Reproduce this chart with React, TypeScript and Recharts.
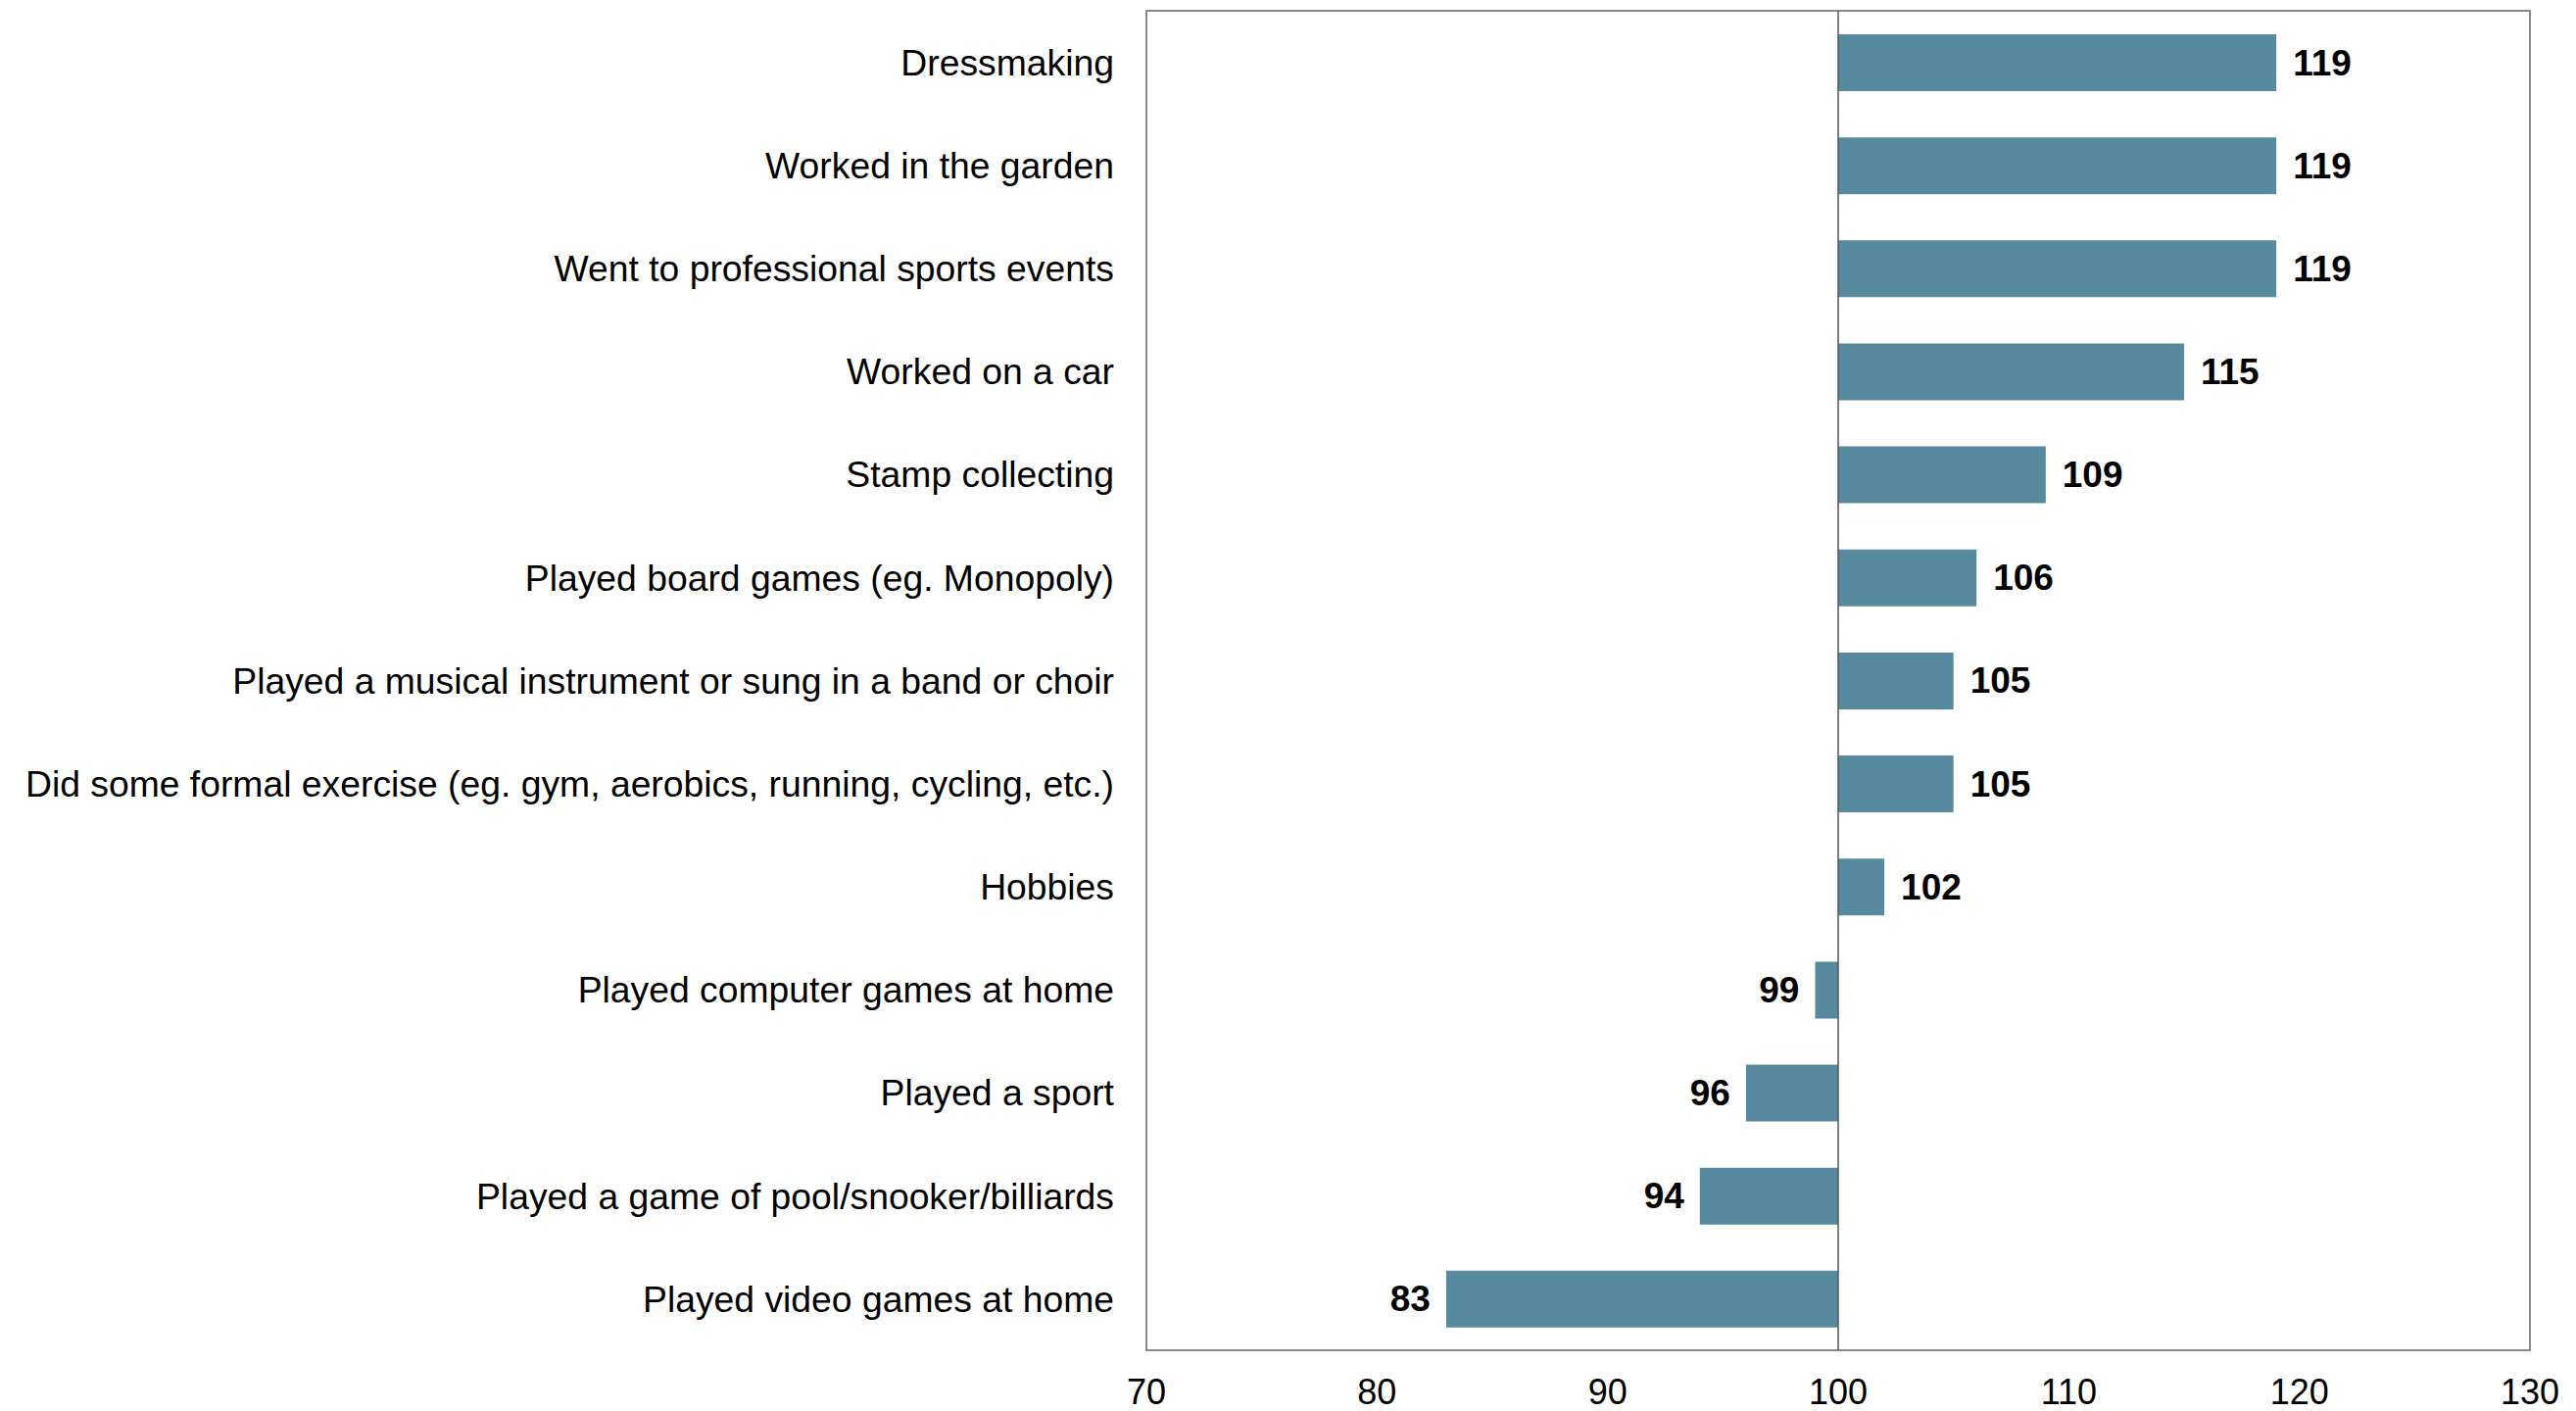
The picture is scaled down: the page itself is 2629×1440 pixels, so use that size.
import { BarChart, Bar, XAxis, YAxis, ReferenceLine, ReferenceArea, LabelList } from "recharts";

const categories = [
  "Dressmaking",
  "Worked in the garden",
  "Went to professional sports events",
  "Worked on a car",
  "Stamp collecting",
  "Played board games (eg. Monopoly)",
  "Played a musical instrument or sung in a band or choir",
  "Did some formal exercise (eg. gym, aerobics, running, cycling, etc.)",
  "Hobbies",
  "Played computer games at home",
  "Played a sport",
  "Played a game of pool/snooker/billiards",
  "Played video games at home",
];

const indexValues = [119, 119, 119, 115, 109, 106, 105, 105, 102, 99, 96, 94, 83];

const xTicks = [70, 80, 90, 100, 110, 120, 130];

const BASE = 100;
const FONT = "'Liberation Sans', Arial, sans-serif";
const BAR_COLOR = "#578A9E";

const data = categories.map((name, i) => ({
  name,
  value: indexValues[i],
  range: [Math.min(BASE, indexValues[i]), Math.max(BASE, indexValues[i])],
}));

function ValueLabel(props: any) {
  const { x, y, width, height, index } = props;
  const v = indexValues[index];
  const above = v >= BASE;
  const tx = above ? x + width + 17 : x - 16;
  return (
    <text
      x={tx}
      y={y + height / 2}
      textAnchor={above ? "start" : "end"}
      dominantBaseline="central"
      fontFamily={FONT}
      fontSize={37}
      fontWeight="bold"
      fill="#000"
    >
      {v}
    </text>
  );
}

export default function App() {
  return (
    <div style={{ position: "absolute", left: 0, top: 0, background: "#fff" }}>
      <BarChart
        width={2629}
        height={1440}
        data={data}
        layout="vertical"
        margin={{ top: 11, right: 47, bottom: 0, left: 0 }}
        barSize={58}
      >
        <XAxis
          type="number"
          domain={[70, 130]}
          ticks={xTicks}
          allowDataOverflow
          axisLine={false}
          tickLine={false}
          tickSize={0}
          tickMargin={29}
          height={62}
          interval={0}
          tick={{ fontSize: 36, fill: "#000", fontFamily: FONT }}
        />
        <YAxis
          type="category"
          dataKey="name"
          width={1170}
          axisLine={false}
          tickLine={false}
          tickSize={0}
          tickMargin={33}
          interval={0}
          tick={{ fontSize: 37.3, fill: "#000", fontFamily: FONT }}
        />
        <ReferenceArea x1={70} x2={130} fill="none" stroke="#8a8a8a" strokeWidth={2} />
        <Bar dataKey="range" fill={BAR_COLOR} isAnimationActive={false}>
          <LabelList dataKey="value" content={<ValueLabel />} />
        </Bar>
        <ReferenceLine x={BASE} stroke="#555" strokeWidth={1.5} />
      </BarChart>
    </div>
  );
}
